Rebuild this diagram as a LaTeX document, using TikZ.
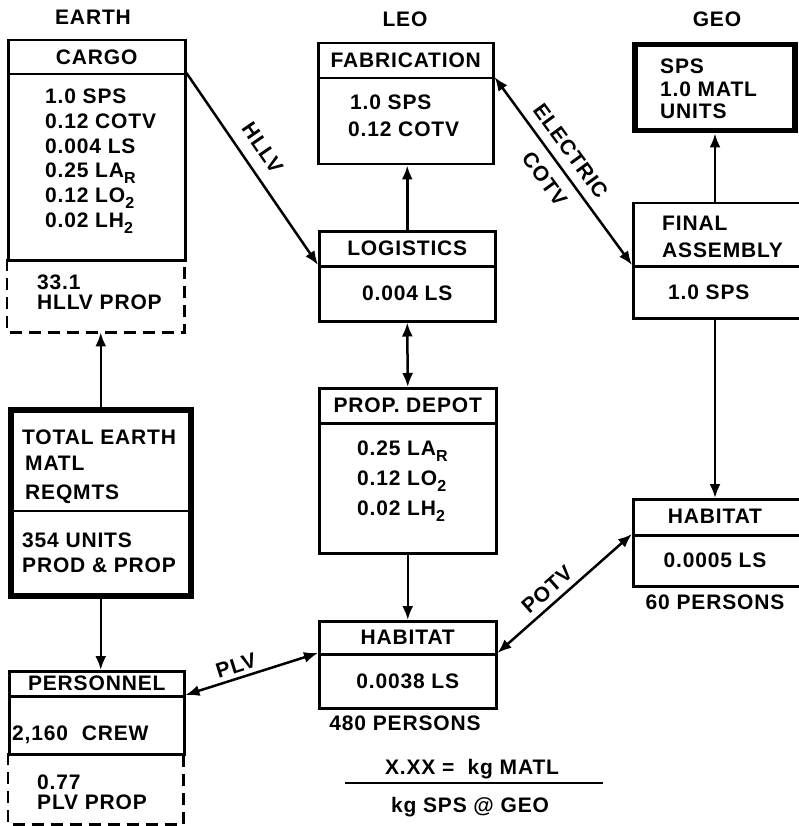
\documentclass[tikz,border=0pt]{standalone}
\usepackage{fontspec}
\setmainfont{Liberation Sans}[LetterSpace=4]
\usetikzlibrary{arrows.meta}
\newcommand\lf{\fontsize{21pt}{24pt}\selectfont\bfseries}
\newcommand\subsc[1]{\raisebox{-6pt}{\fontsize{16pt}{16pt}\selectfont #1}}
\tikzset{
  box/.style={draw, line width=2.5pt, inner sep=0pt, anchor=north west, font=\lf},
  thickbox/.style={draw, line width=5.5pt, inner sep=0pt, anchor=north west},
  area/.style={inner sep=0pt, anchor=north west},
  txt/.style={inner sep=0pt, anchor=base west, font=\lf},
  ctxt/.style={inner sep=0pt, anchor=base, font=\lf},
  dashline/.style={line width=2.5pt, dash pattern=on 12pt off 7pt},
  tip/.tip={Latex[length=14pt,width=11pt]},
  conn/.style={line width=2.5pt, -tip},
  both/.style={line width=2.5pt, tip-tip},
  lbl/.style={sloped, font=\lf, inner sep=2pt}
}
\begin{document}
\begin{tikzpicture}[x=1pt,y=-1pt]
\useasboundingbox (0,0) rectangle (798,826);

% column headers
\node[ctxt] (hEarth) at (93,25) {EARTH};
\node[ctxt] (hLeo) at (405,27) {LEO};
\node[ctxt] (hGeo) at (717,27) {GEO};

% ---------- EARTH ----------
\node[box, minimum width=177pt, minimum height=34pt] (cargoH) at (7,39) {CARGO};
\node[box, minimum width=177pt, minimum height=186pt] (cargoB) at (7,73) {};
\node[txt] (c1) at (45,104) {1.0 SPS};
\node[txt] (c2) at (45,128.6) {0.12 COTV};
\node[txt] (c3) at (45,153.2) {0.004 LS};
\node[txt] (c4) at (45,177.8) {0.25 LA\subsc{R}};
\node[txt] (c5) at (45,202.4) {0.12 LO\subsc{2}};
\node[txt] (c6) at (45,227) {0.02 LH\subsc{2}};
\node[area, minimum width=177pt, minimum height=73pt] (cargoP) at (7,259) {};
\draw[dashline] (cargoP.north west) -- (cargoP.south west) -- (cargoP.south east) -- (cargoP.north east);
\node[txt] (cp1) at (37,289) {33.1};
\node[txt] (cp2) at (37,309) {HLLV PROP};

\node[thickbox, minimum width=180pt, minimum height=186pt] (total) at (8,407) {};
\coordinate (totalD) at (8,511);
\draw[line width=2.5pt] (total.west |- totalD) -- (total.east |- totalD);
\node[txt] (t1) at (22,444) {TOTAL EARTH};
\node[txt] (t2) at (25,470) {MATL};
\node[txt] (t3) at (25,499) {REQMTS};
\node[txt] (t4) at (22,547) {354 UNITS};
\node[txt] (t5) at (22,572) {PROD \& PROP};

\node[box, minimum width=175pt, minimum height=25pt] (persH) at (8,670) {PERSONNEL};
\node[box, minimum width=175pt, minimum height=58pt] (persB) at (8,695) {};
\node[txt] (p1) at (12,740) {2,160\hspace{7pt} CREW};
\node[area, minimum width=175pt, minimum height=71pt] (persP) at (8,753) {};
\draw[dashline] (persP.north west) -- (persP.south west) -- (persP.south east) -- (persP.north east);
\node[txt] (pp1) at (37,789) {0.77};
\node[txt] (pp2) at (37,809) {PLV PROP};

% ---------- LEO ----------
\node[box, minimum width=175pt, minimum height=35pt] (fabH) at (317,42) {FABRICATION};
\node[box, minimum width=175pt, minimum height=86pt] (fabB) at (317,77) {};
\node[txt] (f1) at (350,110) {1.0 SPS};
\node[txt] (f2) at (348,137) {0.12 COTV};

\node[box, minimum width=176pt, minimum height=35pt] (logiH) at (318,230) {LOGISTICS};
\node[box, minimum width=176pt, minimum height=55pt] (logiB) at (318,265) {0.004 LS};

\node[box, minimum width=177pt, minimum height=35pt] (depH) at (318,387) {PROP. DEPOT};
\node[box, minimum width=177pt, minimum height=130pt] (depB) at (318,422) {};
\node[txt] (d1) at (357,455) {0.25 LA\subsc{R}};
\node[txt] (d2) at (357,485) {0.12 LO\subsc{2}};
\node[txt] (d3) at (357,515) {0.02 LH\subsc{2}};

\node[box, minimum width=177pt, minimum height=33pt] (habLH) at (318,620) {HABITAT};
\node[box, minimum width=177pt, minimum height=54pt] (habLB) at (318,653) {0.0038 LS};
\node[ctxt] (habLP) at (405,730) {480 PERSONS};

\node[ctxt] (fr1) at (472,774) {X.XX = \ kg MATL};
\coordinate (frL) at (345,783);
\coordinate (frR) at (603,783);
\draw[line width=2.2pt] (frL) -- (frR);
\node[ctxt] (fr2) at (470,812) {kg SPS @ GEO};

% ---------- GEO ----------
\node[thickbox, minimum width=160pt, minimum height=86pt] (sps) at (632,42) {};
\node[txt] (s1) at (660,74) {SPS};
\node[txt] (s2) at (660,97) {1.0 MATL};
\node[txt] (s3) at (660,119) {UNITS};

\node[box, minimum width=172pt, minimum height=63pt] (finalH) at (632,202) {};
\node[box, minimum width=172pt, minimum height=52pt] (finalB) at (632,265) {};
\node[txt] (fa1) at (662,230) {FINAL};
\node[txt] (fa2) at (662,257) {ASSEMBLY};
\node[txt] (fa3) at (668,299) {1.0 SPS};

\node[box, minimum width=172pt, minimum height=36pt] (habGH) at (632,498) {};
\node[box, minimum width=172pt, minimum height=51pt] (habGB) at (632,534) {};
\node[ctxt] (hg1) at (715,523) {HABITAT};
\node[ctxt] (hg2) at (715,567) {0.0005 LS};
\node[ctxt] (hg3) at (715,609) {60 PERSONS};

% ---------- connectors ----------
\draw[conn] (cargoB.north east) -- (logiB.north west)
  node[lbl, pos=0.45, above=10pt] (lHLLV) {HLLV};
\draw[conn] (logiH.north) -- (logiH.north |- fabB.south);
\draw[both] (fabB.north east) -- (finalB.north west)
  node[lbl, pos=0.45, above=7pt] (lElec) {ELECTRIC}
  node[lbl, pos=0.48, below=9pt] (lCotv) {COTV};
\draw[both] (logiB.south) -- (depH.north);
\draw[conn] (depB.south) -- (habLH.north);
\draw[conn] (finalH.north -| hg1) -- (hg1 |- sps.south);
\draw[conn] (finalB.south -| hg1) -- (hg1 |- habGH.north);
\draw[both] (habLB.north east) -- (habGB.north west)
  node[lbl, pos=0.44, above=4pt] (lPotv) {POTV};
\draw[both] (persB.north east) -- (habLB.north west)
  node[lbl, pos=0.41, above=2pt] (lPlv) {PLV};
\draw[conn] (total.north) -- (total.north |- cargoP.south);
\draw[conn] (total.south) -- (total.south |- persH.north);
\end{tikzpicture}
\end{document}
